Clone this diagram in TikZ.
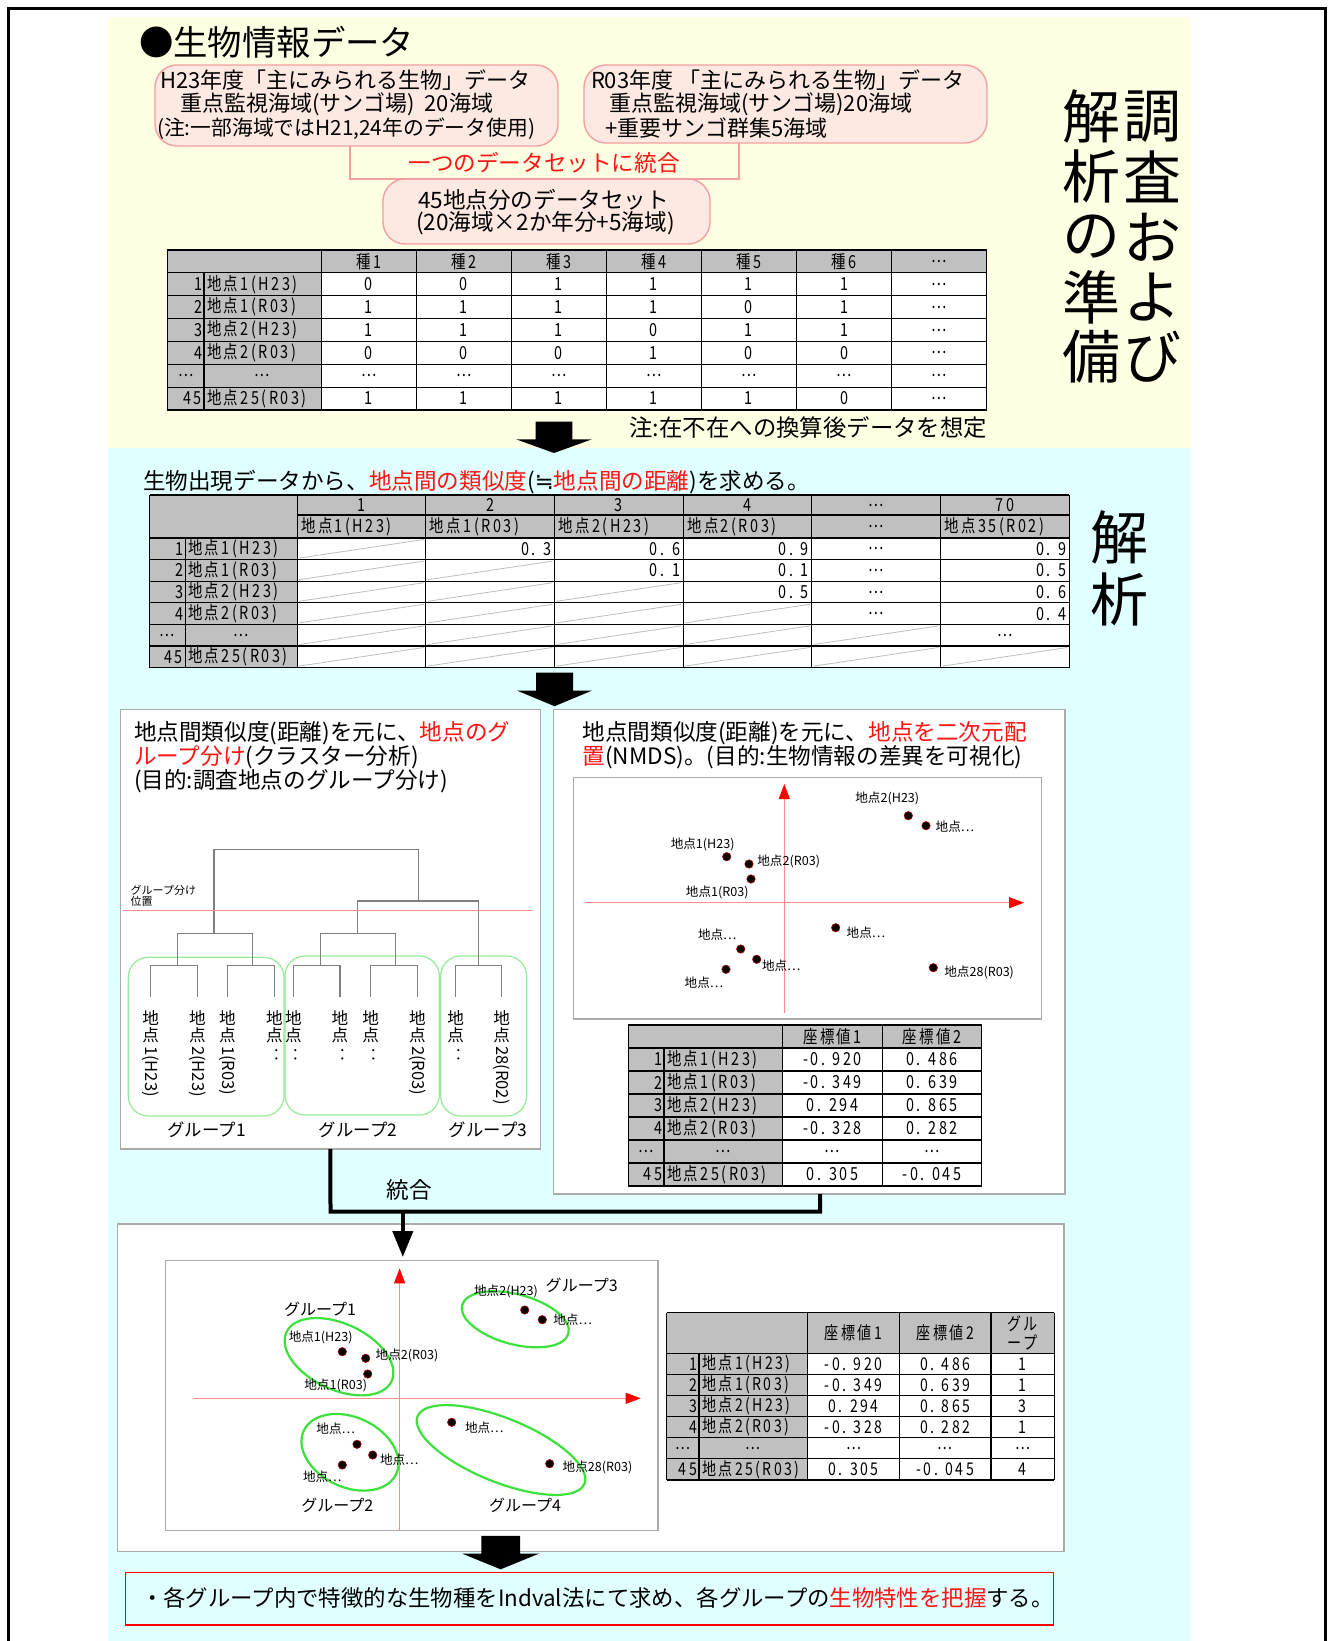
\documentclass[tikz,border=0pt]{standalone}
\usepackage{fontspec}
\setmainfont{Noto Sans CJK JP}
\newfontfamily\condf[FakeStretch=0.8,LetterSpace=14]{Noto Sans CJK JP}
\newfontfamily\djv{DejaVu Sans}
\usetikzlibrary{arrows.meta,fit}
\newcommand\fsz[1]{\fontsize{#1pt}{#1pt}\selectfont}
\definecolor{bgY}{RGB}{255,255,228}
\definecolor{bgC}{RGB}{224,255,255}
\definecolor{pinkF}{RGB}{253,233,225}
\definecolor{pinkB}{RGB}{240,160,160}
\definecolor{tgray}{RGB}{192,192,192}
\definecolor{bgray}{RGB}{170,170,170}
\definecolor{dgray}{RGB}{128,128,128}
\definecolor{diag}{RGB}{190,190,190}
\definecolor{gA}{RGB}{150,235,150}
\definecolor{gB}{RGB}{60,225,60}
\definecolor{axred}{RGB}{255,140,140}
\definecolor{redT}{RGB}{255,20,20}
\tikzset{
  tline/.style={draw=black, line width=0.55pt},
  body/.style={font=\fsz{11}},
  bodyl/.style={font=\fsz{11.3}},
  tc/.style={font=\condf\fsz{9}},
  tcs/.style={font=\condf\fsz{8.8}},
  sm/.style={font=\fsz{6.3}},
  rbox/.style={draw=pinkB, fill=pinkF, rounded corners=11pt, line width=0.7pt, inner sep=0pt},
  wbox/.style={draw=bgray, fill=white, line width=0.7pt, inner sep=0pt},
  dline/.style={draw=dgray, line width=0.6pt},
  gbox/.style={draw=gA, rounded corners=10pt, line width=0.6pt},
  gell/.style={draw=gB, line width=1.1pt},
  ax/.style={draw=axred, line width=0.5pt, -{Triangle[width=5.5pt,length=7.5pt,color=red]}},
  dotp/.style={fill=black, draw=red!70!black, line width=0.3pt},
  conn/.style={draw=black, line width=2pt},
  pinkline/.style={draw=pinkB, line width=0.7pt},
  vt/.style={font=\fsz{29}},
  leaf/.style={font=\fsz{8.3}},
}
\begin{document}
\begin{tikzpicture}[x=0.5pt,y=-0.5pt, every node/.style={inner sep=0pt,outer sep=0pt}]
\useasboundingbox (0,0) rectangle (1336,1641);
% backgrounds
\fill[bgY] (108,17) rectangle (1190,448);
\fill[bgC] (108,448) rectangle (1190,1641);
% outer frame
\draw[line width=1.5pt] (8.3,1641) -- (8.3,9) -- (1325,9) -- (1325,1641);

% ===== section 1 =====
\node[anchor=west, font=\fsz{17.2}] (title) at (139,42) {●生物情報データ};
\node[rbox, fit={(155,65) (558,146)}] (b1) {};
\node[rbox, fit={(584,65) (987,143)}] (b2) {};
\node[body, anchor=west] (b1l1) at (160,80) {H23年度「主にみられる生物」データ};
\node[body, anchor=west] (b1l2) at (180,104) {重点監視海域(サンゴ場)\ \ 20海域};
\node[font=\fsz{10.4}, anchor=west] (b1l3) at (157,129) {(注:一部海域ではH21,24年のデータ使用)};
\node[body, anchor=west] (b2l1) at (591,80) {R03年度\ 「主にみられる生物」データ};
\node[body, anchor=west] (b2l2) at (609,104) {重点監視海域(サンゴ場)20海域};
\node[body, anchor=west] (b2l3) at (605,128) {+重要サンゴ群集5海域};
\coordinate (br1) at (350,179);
\coordinate (br2) at (739,179);
\node[rbox, fit={(383,179) (710,244)}] (b3) {};
\draw[pinkline] (b1.south -| br1) -- (br1) -- (br2) -- (b2.south -| br2);
\node[bodyl, text=redT] (merge) at (544,163) {一つのデータセットに統合};
\node[bodyl, anchor=west] (b3l1) at (418,200) {45地点分のデータセット};
\node[bodyl, anchor=west] (b3l2) at (416,223) {(20海域×2か年分+5海域)};

% vertical titles
\foreach \ch [count=\i] in {調,査,お,よ,び}
  \node[vt] (vta\i) at (1152,{116.5+(\i-1)*60.15}) {\ch};
\foreach \ch [count=\i] in {解,析,の,準,備}
  \node[vt] (vtb\i) at (1091,{116.5+(\i-1)*60.15}) {\ch};
\node[vt] (vtc1) at (1119.4,537) {解};
\node[vt] (vtc2) at (1119.4,599.5) {析};

% ----- table 1 -----
\fill[tgray] (167.4,250) rectangle (986.6,272.857);
\fill[tgray] (167.4,272.857) rectangle (321.2,410);
\fill[white] (321.2,272.857) rectangle (986.6,410);
\foreach \k in {0,...,7}
  \draw[tline] (167.4,{250+\k*22.857}) -- (986.6,{250+\k*22.857});
\draw[tline] (167.4,250) -- (167.4,410);
\draw[tline] (204,272.857) -- (204,410);
\foreach \k in {0,...,7}
  \draw[tline] ({321.2+\k*95.057},250) -- ({321.2+\k*95.057},410);
\foreach \h [count=\c] in {種1,種2,種3,種4,種5,種6,…}
  \node[tc] (t1h\c) at ({321.2+(\c-0.5)*95.057},261.43) {\h};
\foreach \r/\idx/\nm/\vals in {1/1/地点1(H23)/{0,0,1,1,1,1,…},2/2/地点1(R03)/{1,1,1,1,0,1,…},3/3/地点2(H23)/{1,1,1,0,1,1,…},4/4/地点2(R03)/{0,0,0,1,0,0,…},6/45/地点25(R03)/{1,1,1,1,1,0,…}}{
  \node[tc, anchor=east] (t1i\r) at (202,{250+(\r+0.5)*22.857}) {\idx};
  \node[tc, anchor=west] (t1n\r) at (207,{250+(\r+0.5)*22.857}) {\nm};
  \foreach \v [count=\c] in \vals
    \node[tc] (t1v\r-\c) at ({321.2+(\c-0.5)*95.057},{250+(\r+0.5)*22.857}) {\v};
}
\node[tc] (t1i5) at (185.7,375.7) {…};
\node[tc] (t1n5) at (262.6,375.7) {…};
\foreach \c in {1,...,7}
  \node[tc] (t1v5-\c) at ({321.2+(\c-0.5)*95.057},375.7) {…};
\node[font=\fsz{11.7}, anchor=east] (note1) at (987,428) {注:在不在への換算後データを想定};
% block arrow 1
\fill (535.7,421.6) -- (572.3,421.6) -- (572.3,439.4) -- (591.7,439.4) -- (554,453) -- (516.3,439.4) -- (535.7,439.4) -- cycle;

% ===== section 2 =====
\node[bodyl, anchor=west] (s2t) at (143,482) {生物出現データから、\textcolor{redT}{地点間の類似度}({\djv ≒}\textcolor{redT}{地点間の距離})を求める。};
% ----- table 2 -----
\fill[tgray] (149.6,495) rectangle (1069.2,538);
\fill[tgray] (149.6,538) rectangle (297.1,667.6);
\fill[white] (297.1,538) rectangle (1069.2,667.6);
% diagonals
\foreach \r/\n in {1/1,2/2,3/3,4/4,5/5,6/6}
  \foreach \c in {1,...,\n}
    \draw[diag, line width=0.4pt] ({297.1+(\c-1)*128.68+2},{538+\r*21.6-1.5}) -- ({297.1+\c*128.68-2},{538+(\r-1)*21.6+1.5});
\draw[tline] (149.6,495) -- (1069.2,495);
\draw[tline] (297.1,515) -- (1069.2,515);
\foreach \k in {0,...,6}
  \draw[tline] (149.6,{538+\k*21.6}) -- (1069.2,{538+\k*21.6});
\draw[tline] (149.6,495) -- (149.6,667.6);
\draw[tline] (185.2,538) -- (185.2,667.6);
\foreach \k in {0,...,6}
  \draw[tline] ({297.1+\k*128.68},495) -- ({297.1+\k*128.68},667.6);
\foreach \h [count=\c] in {1,2,3,4,…,70}
  \node[tc] (t2h\c) at ({297.1+(\c-0.5)*128.68},505) {\h};
\foreach \h [count=\c] in {地点1(H23),地点1(R03),地点2(H23),地点2(R03)}
  \node[tc, anchor=west] (t2g\c) at ({297.1+(\c-1)*128.68+4},526.5) {\h};
\node[tc] (t2g5) at ({297.1+4.5*128.68},526.5) {…};
\node[tc, anchor=west] (t2g6) at ({297.1+5*128.68+4},526.5) {地点35(R02)};
\foreach \r/\idx/\nm in {1/1/地点1(H23),2/2/地点1(R03),3/3/地点2(H23),4/4/地点2(R03),6/45/地点25(R03)}{
  \node[tc, anchor=east] (t2i\r) at (183,{538+(\r-0.5)*21.6}) {\idx};
  \node[tc, anchor=west] (t2n\r) at (188,{538+(\r-0.5)*21.6}) {\nm};
}
\node[tc] (t2i5) at (167.4,635.2) {…};
\node[tc] (t2n5) at (241.1,635.2) {…};
\foreach \r/\c/\v in {1/2/0. 3,1/3/0. 6,1/4/0. 9,1/6/0. 9,2/3/0. 1,2/4/0. 1,2/6/0. 5,3/4/0. 5,3/6/0. 6,4/6/0. 4}
  \node[tc, anchor=east] (t2v\r-\c) at ({297.1+\c*128.68-3},{538+(\r-0.5)*21.6}) {\v};
\foreach \r in {1,2,3,4}
  \node[tc] (t2d\r) at ({297.1+4.5*128.68},{538+(\r-0.5)*21.6}) {…};
\node[tc] (t2d5) at ({297.1+5.5*128.68},635.2) {…};
% block arrow 2
\fill (536,672.7) -- (573,672.7) -- (573,690.5) -- (592.2,690.5) -- (554.5,706.2) -- (516.8,690.5) -- (536,690.5) -- cycle;

% ===== box A : cluster =====
\node[wbox, fit={(120.7,709.3) (540.2,1149)}] (boxA) {};
\node[bodyl, anchor=west] (aT1) at (134,733) {地点間類似度(距離)を元に、\textcolor{redT}{地点のグ}};
\node[bodyl, anchor=west] (aT2) at (134,757) {\textcolor{redT}{ループ分け}(クラスター分析)};
\node[bodyl, anchor=west] (aT3) at (134,781.5) {(目的:調査地点のグループ分け)};
\node[gbox, fit={(128.3,957.3) (284,1116)}] (gA1) {};
\node[gbox, fit={(285,956) (439.3,1115)}] (gA2) {};
\node[gbox, fit={(440.7,956) (526.7,1116)}] (gA3) {};
\draw[dline] (214,933.3) -- (214,849.3) -- (418.3,849.3) -- (418.3,901);
\draw[dline] (357.7,933.3) -- (357.7,901) -- (478.3,901) -- (478.3,965.7);
\draw[dline] (177.7,965.7) -- (177.7,933.3) -- (252.7,933.3) -- (252.7,965.7);
\draw[dline] (320.3,965.7) -- (320.3,933.3) -- (395.7,933.3) -- (395.7,965.7);
\draw[dline] (150.7,996.7) -- (150.7,965.7) -- (197.3,965.7) -- (197.3,996.7);
\draw[dline] (227.3,996.7) -- (227.3,965.7) -- (274.3,965.7) -- (274.3,996.7);
\draw[dline] (293.3,996.7) -- (293.3,965.7) -- (340,965.7) -- (340,996.7);
\draw[dline] (370.7,996.7) -- (370.7,965.7) -- (417.3,965.7) -- (417.3,996.7);
\draw[dline] (455.7,996.7) -- (455.7,965.7) -- (501.7,965.7) -- (501.7,996.7);
\draw[draw=axred, line width=0.5pt] (123.3,910) -- (531.7,910);
\node[font=\fsz{5.5}, anchor=west] (gpos1) at (130.7,890) {グループ分け};
\node[font=\fsz{5.5}, anchor=west] (gpos2) at (130.7,901.5) {位置};
\foreach \x/\t [count=\i] in {150.7/1(H23),197.3/2(H23),227.3/1(R03),274.3/‥,293.3/‥,340/‥,370.7/‥,417.3/2(R03),455.7/‥,501.7/28(R02)}{
  \node[leaf] (lfa\i) at (\x,1018) {地};
  \node[leaf] (lfb\i) at (\x,1035.5) {点};
  \node[leaf, rotate=-90, anchor=west] (lfc\i) at (\x,1046) {\t};
}
\node[font=\fsz{8.7}] (gl1) at (206.7,1130) {グループ1};
\node[font=\fsz{8.7}] (gl2) at (358,1130) {グループ2};
\node[font=\fsz{8.7}] (gl3) at (488,1130) {グループ3};

% ===== box B : NMDS =====
\node[wbox, fit={(553.3,709.3) (1065,1194)}] (boxB) {};
\node[bodyl, anchor=west] (bT1) at (582.7,733) {地点間類似度(距離)を元に、\textcolor{redT}{地点を二次元配}};
\node[bodyl, anchor=west] (bT2) at (582.7,757) {\textcolor{redT}{置}(NMDS)。(目的:生物情報の差異を可視化)};
\node[wbox, fit={(573.3,777.7) (1041.7,1019)}] (plotB) {};
\draw[ax] (585,902.7) -- (1024,902.7);
\draw[ax] (784.3,1013.3) -- (784.3,784);
\foreach \x/\y [count=\i] in {908.3/815.7,926/825.7,726.7/856.7,749/864,751/879,835.7/927.7,740.7/949,756.7/959.3,726/969.3,933.3/967.7}
  \fill[dotp] (\x,\y) circle[radius=2.1pt];
\node[sm] (pb1) at (887.3,798.3) {地点2(H23)};
\node[sm, anchor=west] (pb2) at (935.7,826.7) {地点…};
\node[sm] (pb3) at (702.7,844) {地点1(H23)};
\node[sm, anchor=west] (pb4) at (757.3,861.3) {地点2(R03)};
\node[sm] (pb5) at (717.3,892.3) {地点1(R03)};
\node[sm, anchor=west] (pb6) at (846.7,932.3) {地点…};
\node[sm] (pb7) at (717.3,934.7) {地点…};
\node[sm, anchor=west] (pb8) at (762,965.7) {地点…};
\node[sm] (pb9) at (704,982.7) {地点…};
\node[sm, anchor=west] (pb10) at (944.3,972.7) {地点28(R03)};
% ----- table 3 -----
\fill[tgray] (628.3,1025) rectangle (981.7,1048);
\fill[tgray] (628.3,1048) rectangle (782.7,1186);
\fill[white] (782.7,1048) rectangle (981.7,1186);
\foreach \k in {0,...,7}
  \draw[tline] (628.3,{1025+\k*23}) -- (981.7,{1025+\k*23});
\foreach \xx in {628.3,782.7,882.3,981.7}
  \draw[tline] (\xx,1025) -- (\xx,1186);
\draw[tline] (664,1048) -- (664,1186);
\node[tc] (t3h1) at (832.5,1036.5) {座標値1};
\node[tc] (t3h2) at (932,1036.5) {座標値2};
\foreach \r/\idx/\nm/\a/\b in {1/1/地点1(H23)/-0. 920/0. 486,2/2/地点1(R03)/-0. 349/0. 639,3/3/地点2(H23)/0. 294/0. 865,4/4/地点2(R03)/-0. 328/0. 282,6/45/地点25(R03)/0. 305/-0. 045}{
  \node[tc, anchor=east] (t3i\r) at (662,{1048+(\r-0.5)*23}) {\idx};
  \node[tc, anchor=west] (t3n\r) at (667,{1048+(\r-0.5)*23}) {\nm};
  \node[tc] (t3a\r) at (832.5,{1048+(\r-0.5)*23}) {\a};
  \node[tc] (t3b\r) at (932,{1048+(\r-0.5)*23}) {\b};
}
\node[tc] (t3i5) at (646.2,1151.5) {…};
\node[tc] (t3n5) at (723.3,1151.5) {…};
\node[tc] (t3a5) at (832.5,1151.5) {…};
\node[tc] (t3b5) at (932,1151.5) {…};

% ===== connector 統合 =====
\node[wbox, fit={(117.2,1224) (1064,1551.5)}] (boxC) {};
\coordinate (jL) at (330.5,1211.5);
\coordinate (jR) at (820.2,1211.5);
\coordinate (jA) at (402.8,1211.5);
\coordinate (tipC) at (402.8,1257);
\draw[conn] (boxA.south) -- (jL) -- (jR) -- (jR |- boxB.south);
\draw[conn, -{Triangle[width=10pt,length=13pt]}] (jA) -- (tipC);
\node[bodyl] (togo) at (409,1189.5) {統合};

% ===== box C =====
\node[wbox, fit={(165.3,1260.7) (658,1530.6)}] (plotC) {};
\draw[ax] (193.3,1398.3) -- (640.7,1398.3);
\draw[ax] (399.6,1530) -- (399.6,1268.3);
\draw[gell, rotate around={-25:(339,1356.7)}] (339,1356.7) ellipse [x radius=29pt, y radius=16.5pt];
\draw[gell, rotate around={-15:(515.3,1319.3)}] (515.3,1319.3) ellipse [x radius=27.5pt, y radius=12.5pt];
\draw[gell, rotate around={-25:(350,1452.3)}] (350,1452.3) ellipse [x radius=25.5pt, y radius=17.5pt];
\draw[gell, rotate around={-22:(501,1450)}] (501,1450) ellipse [x radius=45pt, y radius=16pt];
\foreach \x/\y in {342.3/1351.7,365.7/1358.3,367.7/1374,524.7/1310,542.3/1319.7,357/1444.3,372.7/1455,342.3/1465,451.7/1422.3,549.7/1463.7}
  \fill[dotp] (\x,\y) circle[radius=2.1pt];
\node[sm] (pc1) at (320.7,1337.3) {地点1(H23)};
\node[sm, anchor=west] (pc2) at (375.7,1355) {地点2(R03)};
\node[sm] (pc3) at (335.7,1385.7) {地点1(R03)};
\node[sm] (pc4) at (506,1291.7) {地点2(H23)};
\node[sm, anchor=west] (pc5) at (553.3,1320) {地点…};
\node[sm] (pc6) at (335.7,1429) {地点…};
\node[sm, anchor=west] (pc7) at (380,1460) {地点…};
\node[sm] (pc8) at (322.3,1476.7) {地点…};
\node[sm, anchor=west] (pc9) at (465,1427.3) {地点…};
\node[sm, anchor=west] (pc10) at (562.7,1467.3) {地点28(R03)};
\node[font=\fsz{8}] (cg1) at (320,1309.3) {グループ1};
\node[font=\fsz{8}] (cg2) at (337.3,1505.7) {グループ2};
\node[font=\fsz{8}] (cg3) at (581.7,1285) {グループ3};
\node[font=\fsz{8}] (cg4) at (525,1505) {グループ4};
% ----- table 4 -----
\fill[tgray] (666.7,1312.7) rectangle (1054.3,1353.3);
\fill[tgray] (666.7,1353.3) rectangle (807.7,1480);
\fill[white] (807.7,1353.3) rectangle (1054.3,1480);
\draw[tline] (666.7,1312.7) -- (1054.3,1312.7);
\foreach \k in {0,...,6}
  \draw[tline] (666.7,{1353.3+\k*21.117}) -- (1054.3,{1353.3+\k*21.117});
\foreach \xx in {666.7,807.7,899.3,991,1054.3}
  \draw[tline] (\xx,1312.7) -- (\xx,1480);
\draw[tline] (699,1353.3) -- (699,1480);
\node[tcs] (t4h1) at (853.5,1333) {座標値1};
\node[tcs] (t4h2) at (945.2,1333) {座標値2};
\node[tcs] (t4h3) at (1022.7,1323.5) {グル};
\node[tcs] (t4h4) at (1022.7,1342.5) {ープ};
\foreach \r/\idx/\nm/\a/\b/\g in {1/1/地点1(H23)/-0. 920/0. 486/1,2/2/地点1(R03)/-0. 349/0. 639/1,3/3/地点2(H23)/0. 294/0. 865/3,4/4/地点2(R03)/-0. 328/0. 282/1,6/45/地点25(R03)/0. 305/-0. 045/4}{
  \node[tcs, anchor=east] (t4i\r) at (697,{1353.3+(\r-0.5)*21.117}) {\idx};
  \node[tcs, anchor=west] (t4n\r) at (702,{1353.3+(\r-0.5)*21.117}) {\nm};
  \node[tcs] (t4a\r) at (853.5,{1353.3+(\r-0.5)*21.117}) {\a};
  \node[tcs] (t4b\r) at (945.2,{1353.3+(\r-0.5)*21.117}) {\b};
  \node[tcs] (t4g\r) at (1022.7,{1353.3+(\r-0.5)*21.117}) {\g};
}
\node[tcs] (t4i5) at (682.8,1448.3) {…};
\node[tcs] (t4n5) at (753.3,1448.3) {…};
\node[tcs] (t4a5) at (853.5,1448.3) {…};
\node[tcs] (t4b5) at (945.2,1448.3) {…};
\node[tcs] (t4g5) at (1022.7,1448.3) {…};

% block arrow 3
\fill (481.3,1535.8) -- (520,1535.8) -- (520,1553.7) -- (538.8,1553.7) -- (500.6,1569.3) -- (462.4,1553.7) -- (481.3,1553.7) -- cycle;
% final box
\node[draw=red, line width=0.8pt, fit={(125.5,1572.5) (1053.5,1625)}] (fin) {};
\node[font=\fsz{11.2}, anchor=west] (finT) at (141,1598) {・各グループ内で特徴的な生物種をIndval法にて求め、各グループの\textcolor{redT}{生物特性を把握}する。};
\end{tikzpicture}
\end{document}
